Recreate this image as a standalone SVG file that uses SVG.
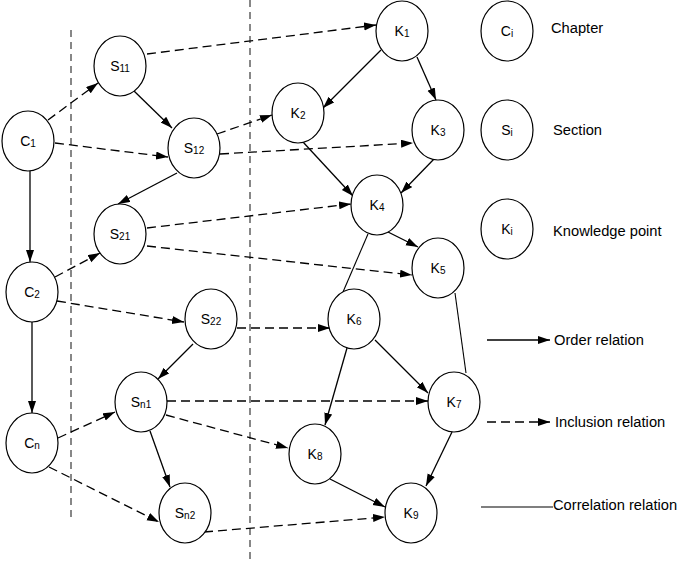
<svg xmlns="http://www.w3.org/2000/svg" width="685" height="564" viewBox="0 0 685 564">
<style>
.n ellipse{fill:#fff;stroke:#000;stroke-width:1.2}
.n text{font-family:"Liberation Sans",Arial,sans-serif;font-size:14px;text-anchor:middle;fill:#000}
.sub{font-size:10px}
.o{stroke:#000;stroke-width:1.3;fill:none;marker-end:url(#ah)}
.i{stroke:#000;stroke-width:1.3;fill:none;stroke-dasharray:9 5;marker-end:url(#ah)}
.c{stroke:#000;stroke-width:1.1;fill:none}
.div{stroke:#555;stroke-width:1.4;stroke-dasharray:7 5}
.lg{font-family:"Liberation Sans",Arial,sans-serif;font-size:14.7px;fill:#000}
</style>
<defs>
<marker id="ah" markerUnits="userSpaceOnUse" markerWidth="13" markerHeight="9" refX="12" refY="4" orient="auto">
<path d="M0,0 L12,4 L0,8 z" fill="#000" stroke="none"/>
</marker>
</defs>
<rect width="685" height="564" fill="#fff"/>
<g id="dividers">
<line class="div" x1="71" y1="30" x2="71" y2="518"/>
<line class="div" x1="250" y1="0" x2="250" y2="564"/>
</g>
<g id="connectors">
<line class="o" x1="30" y1="171" x2="30" y2="262"/>
<line class="o" x1="32" y1="322" x2="32" y2="413"/>
<line class="o" x1="133" y1="90" x2="172" y2="128"/>
<line class="o" x1="177" y1="173" x2="118" y2="204"/>
<line class="o" x1="193" y1="344" x2="158" y2="379"/>
<line class="o" x1="150" y1="431" x2="170" y2="487"/>
<line class="o" x1="381" y1="50" x2="323" y2="108"/>
<line class="o" x1="417" y1="57" x2="436" y2="100"/>
<line class="o" x1="303" y1="142" x2="353" y2="196"/>
<line class="o" x1="434" y1="159" x2="401" y2="193"/>
<line class="o" x1="388" y1="232" x2="418" y2="247"/>
<line class="o" x1="375" y1="340" x2="428" y2="393"/>
<line class="o" x1="347" y1="348" x2="325" y2="425"/>
<line class="o" x1="452" y1="432" x2="426" y2="486"/>
<line class="o" x1="330" y1="479" x2="385" y2="507"/>
<line class="i" x1="48" y1="120" x2="98" y2="83"/>
<line class="i" x1="55" y1="143" x2="168" y2="157"/>
<line class="i" x1="55" y1="277" x2="100" y2="253"/>
<line class="i" x1="57" y1="301" x2="184" y2="322"/>
<line class="i" x1="58" y1="438" x2="115" y2="412"/>
<line class="i" x1="49" y1="467" x2="159" y2="522"/>
<line class="i" x1="147" y1="54" x2="376" y2="25"/>
<line class="i" x1="217" y1="134" x2="272" y2="115"/>
<line class="i" x1="220" y1="154" x2="413" y2="143"/>
<line class="i" x1="147" y1="228" x2="351" y2="204"/>
<line class="i" x1="147" y1="246" x2="412" y2="275"/>
<line class="i" x1="237" y1="328" x2="330" y2="328"/>
<line class="i" x1="167" y1="401" x2="428" y2="401"/>
<line class="i" x1="166" y1="415" x2="288" y2="448"/>
<line class="i" x1="204" y1="532" x2="385" y2="517"/>
<line class="c" x1="368" y1="234" x2="343" y2="292"/>
<line class="c" x1="455" y1="293" x2="466" y2="373"/>
</g>
<g id="C1" class="n"><ellipse cx="28" cy="141" rx="26" ry="30"/><text x="28" y="146">C<tspan class="sub" dy="0.5">1</tspan></text></g>
<g id="C2" class="n"><ellipse cx="32" cy="292" rx="26" ry="30"/><text x="32" y="297">C<tspan class="sub" dy="0.5">2</tspan></text></g>
<g id="Cn" class="n"><ellipse cx="32" cy="443" rx="26" ry="30"/><text x="32" y="448">C<tspan class="sub" dy="0.5">n</tspan></text></g>
<g id="S11" class="n"><ellipse cx="120" cy="66" rx="26" ry="30"/><text x="120" y="71">S<tspan class="sub" dy="0.5">11</tspan></text></g>
<g id="S12" class="n"><ellipse cx="194" cy="148" rx="26" ry="30"/><text x="194" y="153">S<tspan class="sub" dy="0.5">12</tspan></text></g>
<g id="S21" class="n"><ellipse cx="120" cy="234" rx="26" ry="30"/><text x="120" y="239">S<tspan class="sub" dy="0.5">21</tspan></text></g>
<g id="S22" class="n"><ellipse cx="211" cy="319" rx="26" ry="30"/><text x="211" y="324">S<tspan class="sub" dy="0.5">22</tspan></text></g>
<g id="Sn1" class="n"><ellipse cx="141" cy="402" rx="26" ry="30"/><text x="141" y="407">S<tspan class="sub" dy="0.5">n1</tspan></text></g>
<g id="Sn2" class="n"><ellipse cx="185" cy="513" rx="26" ry="30"/><text x="185" y="518">S<tspan class="sub" dy="0.5">n2</tspan></text></g>
<g id="K1" class="n"><ellipse cx="402" cy="31" rx="26" ry="30"/><text x="402" y="36">K<tspan class="sub" dy="0.5">1</tspan></text></g>
<g id="K2" class="n"><ellipse cx="298" cy="113" rx="26" ry="30"/><text x="298" y="118">K<tspan class="sub" dy="0.5">2</tspan></text></g>
<g id="K3" class="n"><ellipse cx="438" cy="130" rx="26" ry="30"/><text x="438" y="135">K<tspan class="sub" dy="0.5">3</tspan></text></g>
<g id="K4" class="n"><ellipse cx="377" cy="205" rx="26" ry="30"/><text x="377" y="210">K<tspan class="sub" dy="0.5">4</tspan></text></g>
<g id="K5" class="n"><ellipse cx="438" cy="268" rx="26" ry="30"/><text x="438" y="273">K<tspan class="sub" dy="0.5">5</tspan></text></g>
<g id="K6" class="n"><ellipse cx="354" cy="319" rx="26" ry="30"/><text x="354" y="324">K<tspan class="sub" dy="0.5">6</tspan></text></g>
<g id="K7" class="n"><ellipse cx="454" cy="402" rx="26" ry="30"/><text x="454" y="407">K<tspan class="sub" dy="0.5">7</tspan></text></g>
<g id="K8" class="n"><ellipse cx="315" cy="454" rx="26" ry="30"/><text x="315" y="459">K<tspan class="sub" dy="0.5">8</tspan></text></g>
<g id="K9" class="n"><ellipse cx="411" cy="513" rx="26" ry="30"/><text x="411" y="518">K<tspan class="sub" dy="0.5">9</tspan></text></g>
<g id="legend">
<g id="legend-Ci" class="n"><ellipse cx="507" cy="31" rx="26" ry="30"/><text x="507" y="36">C<tspan class="sub" dy="0.5">i</tspan></text></g>
<g id="legend-Si" class="n"><ellipse cx="507" cy="130" rx="26" ry="30"/><text x="507" y="135">S<tspan class="sub" dy="0.5">i</tspan></text></g>
<g id="legend-Ki" class="n"><ellipse cx="507" cy="229" rx="26" ry="30"/><text x="507" y="234">K<tspan class="sub" dy="0.5">i</tspan></text></g>
<text class="lg" x="551" y="33">Chapter</text>
<text class="lg" x="553" y="135">Section</text>
<text class="lg" x="553" y="236">Knowledge point</text>
<line class="o" x1="487" y1="340" x2="550" y2="340"/>
<text class="lg" x="554" y="345">Order relation</text>
<line class="i" x1="487" y1="422" x2="550" y2="422"/>
<text class="lg" x="555" y="427">Inclusion relation</text>
<line class="c" x1="481" y1="507" x2="553" y2="507"/>
<text class="lg" x="553" y="510">Correlation relation</text>
</g>
</svg>
